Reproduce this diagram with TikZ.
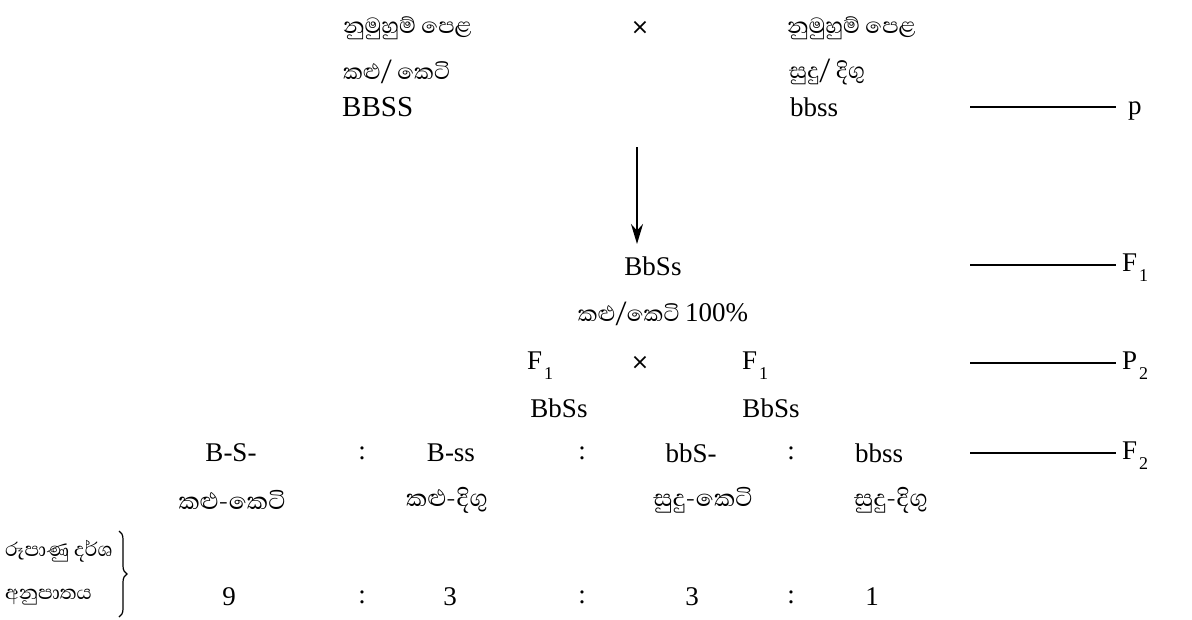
\documentclass[tikz,border=0pt]{standalone}
\usepackage{fontspec}
\setmainfont{Liberation Serif}
\newfontfamily\sinhfont[Script=Sinhala]{Abhaya Libre}
\newfontfamily\dvs{DejaVu Sans}
\usetikzlibrary{arrows.meta,decorations.pathreplacing}
\newcommand{\lowsub}[1]{\kern2pt\raisebox{-0.38em}{\fontsize{18}{20}\selectfont #1}}
\begin{document}
\begin{tikzpicture}[x=1pt,y=-1pt,
  font=\fontsize{27}{32}\selectfont,
  txt/.style={inner sep=0pt,anchor=center},
  ltxt/.style={inner sep=0pt,anchor=west},
  si/.style={font=\fontsize{28}{32}\selectfont\sinhfont},
  sib/.style={font=\fontsize{30}{34}\selectfont\sinhfont},
  sis/.style={font=\fontsize{25}{28}\selectfont\sinhfont},
  gen/.style={line width=2.6pt},
  arr/.style={line width=2pt,-{Stealth[length=20pt,width=12pt]}}]
\useasboundingbox (0,0) rectangle (1192,619);
% row 1
\node[ltxt,si] (p1a) at (343,28) {නුමුහුම් පෙළ};
\node[txt] (x1) at (640,28) {\dvs\fontsize{22}{26}\selectfont ×};
\node[ltxt,si] (p1b) at (787,28) {නුමුහුම් පෙළ};
% row 2
\node[ltxt,si] (p2a) at (343,72) {කළු/ කෙටි};
\node[ltxt,si] (p2b) at (789,72) {සුදු/ දිගු};
% row 3
\node[ltxt] (p3a) at (342,107) {\fontsize{29}{32}\selectfont BBSS};
\node[ltxt] (p3b) at (790,107) {bbss};
\coordinate (lp1) at (970,107);
\coordinate (lp2) at (1116,107);
\draw[gen] (lp1) -- (lp2);
\node[ltxt] (lp) at (1128,111) {p};
% arrow
\coordinate (a1) at (637,147);
\node[txt] (f1) at (653,266) {BbSs};
\coordinate (a2) at (637,244);
\draw[arr] (a1) -- (a2);
\coordinate (lf1a) at (970,265);
\coordinate (lf1b) at (1116,265);
\draw[gen] (lf1a) -- (lf1b);
\node[ltxt] (lf1) at (1122,268) {F\lowsub{1}};
\node[txt,si] (pct) at (663,314) {කළු/කෙටි {\rmfamily\fontsize{27}{32}\selectfont 100\%}};
% row P2
\node[ltxt] (pa) at (527,366) {F\lowsub{1}};
\node[txt] (x2) at (640,363) {\dvs\fontsize{22}{26}\selectfont ×};
\node[ltxt] (pb) at (742,366) {F\lowsub{1}};
\coordinate (lp2a) at (970,363);
\coordinate (lp2b) at (1116,363);
\draw[gen] (lp2a) -- (lp2b);
\node[ltxt] (lp2) at (1122,366) {P\lowsub{2}};
\node[txt] (ga) at (559,408) {BbSs};
\node[txt] (gb) at (771,408) {BbSs};
% F2 row
\node[txt] (g1) at (231,453) {B-S-};
\node[txt] (c1) at (362,453) {:};
\node[txt] (g2) at (451,453) {B-ss};
\node[txt] (c2) at (582,453) {:};
\node[txt] (g3) at (691,453) {bbS-};
\node[txt] (c3) at (791,453) {:};
\node[txt] (g4) at (879,453) {bbss};
\coordinate (lf2a) at (970,453);
\coordinate (lf2b) at (1116,453);
\draw[gen] (lf2a) -- (lf2b);
\node[ltxt] (lf2) at (1122,456) {F\lowsub{2}};
% phenotypes
\node[txt,sib] (ph1) at (232,500) {කළු-කෙටි};
\node[txt,sib] (ph2) at (447,500) {කළු-දිගු};
\node[txt,sib] (ph3) at (703,500) {සුදු-කෙටි};
\node[txt,sib] (ph4) at (891,500) {සුදු-දිගු};
% ratio
\node[ltxt,sis] (r1) at (5,551) {රූපාණු දර්ශ};
\node[ltxt,sis] (r2) at (5,597) {අනුපාතය};
\coordinate (b1) at (119,531);
\coordinate (b2) at (119,617);
\draw[line width=1.2pt,decorate,decoration={brace,amplitude=8pt}] (b1) -- (b2);
\node[txt] (n1) at (229,597) {9};
\node[txt] (d1) at (362,597) {:};
\node[txt] (n2) at (450,597) {3};
\node[txt] (d2) at (582,597) {:};
\node[txt] (n3) at (692,597) {3};
\node[txt] (d3) at (791,597) {:};
\node[txt] (n4) at (872,597) {1};
\end{tikzpicture}
\end{document}
